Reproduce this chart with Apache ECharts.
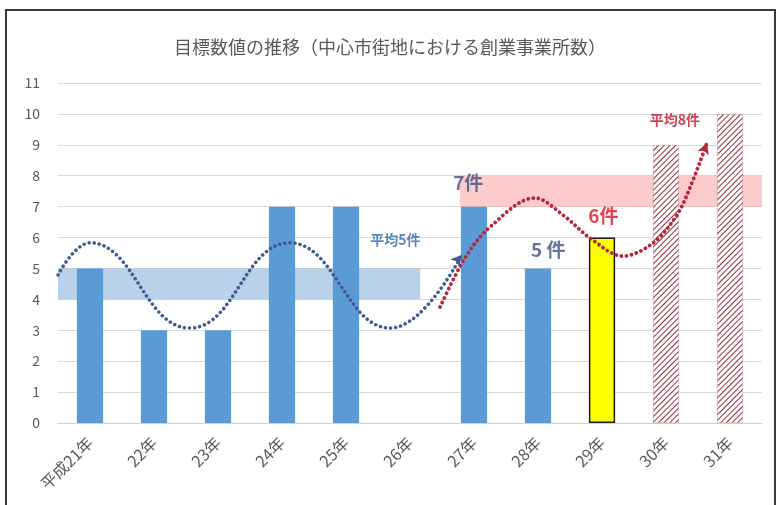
<!DOCTYPE html>
<html>
<head>
<meta charset="utf-8">
<script src="https://cdn.jsdelivr.net/npm/echarts@6/dist/echarts.min.js"></script>
<style>
  html, body { margin: 0; padding: 0; background: #fff; }
  #frame {
    position: absolute; left: 5px; top: 9px; width: 771px; height: 500px;
    border: 2px solid #3a3a3a; border-bottom: none; box-sizing: border-box;
  }
  #chart { position: absolute; left: 0; top: 0; width: 780px; height: 505px; }
</style>
</head>
<body>
<div id="frame"></div>
<div id="chart"></div>
<script>
  // 年度と実績・目標
  const years = ["平成21年", "22年", "23年", "24年", "25年", "26年", "27年", "28年", "29年", "30年", "31年"];
  const counts = [5, 3, 3, 7, 7, null, 7, 5, 6, 9, 10];
  const kinds = ["actual", "actual", "actual", "actual", "actual", "actual", "actual", "actual", "current", "target", "target"];
  const yTicks = [0, 11, 1];

  // 平均の帯 [x0, x1, y0, y1]（x は年度の位置）
  const bandBefore = [-0.5, 5.16, 4, 5];
  const bandAfter = [5.78, 10.5, 7, 8];

  // 点線カーブ（目で読んだ点）
  const waveBefore = [
    [-0.5, 4.79], [0, 5.83], [1.56, 3.07], [3.12, 5.83], [4.69, 3.07], [5.81, 5.44]
  ];
  const waveAfter = [
    [5.47, 3.75], [5.86, 5.34], [6.25, 6.34], [6.95, 7.28], [7.39, 6.73], [7.81, 5.99],
    [8.33, 5.4], [8.8, 5.83], [9.17, 6.73], [9.38, 7.64], [9.64, 9.06]
  ];

  // 注記 [x, y, 文字]
  const notesBlue = [[4.77, 5.92, "平均5件"]];
  const notesBig = [[5.91, 7.77, "7件"], [7.16, 5.6, "5 件"]];
  const notesRed = [[8.02, 6.7, "6件"]];
  const notesRedSmall = [[9.14, 9.8, "平均8件"]];

  const font = "'Noto Sans CJK JP', 'Noto Sans', sans-serif";

  const barStyles = {
    actual: { color: "#5B9BD5" },
    current: { color: "#FFFF00", borderColor: "#1a1a1a", borderWidth: 1.5 },
    target: {
      color: "#ffffff",
      borderColor: "rgba(200,60,70,0.3)",
      borderWidth: 1,
      borderType: "dotted",
      decal: {
        symbol: "rect",
        color: "#8A3040",
        dashArrayX: [1, 0],
        dashArrayY: [0.9, 2.6],
        rotation: -Math.PI / 4,
        symbolSize: 1
      }
    }
  };

  const barData = counts.map((v, i) => ({ value: v, itemStyle: barStyles[kinds[i]] }));

  function withArrow(points, rotate) {
    return points.map((p, i) =>
      i === points.length - 1
        ? { value: p, symbol: "arrow", symbolSize: [9, 11], symbolRotate: rotate }
        : { value: p }
    );
  }

  function noteSeries(list, color, size, weight) {
    return {
      type: "scatter",
      xAxisIndex: 1,
      symbolSize: 0,
      z: 20,
      silent: true,
      data: list.map((n) => ({ value: [n[0], n[1]], name: n[2] })),
      label: {
        show: true,
        position: "inside",
        formatter: (p) => p.name,
        color: color,
        fontSize: size,
        fontWeight: weight,
        fontFamily: font
      }
    };
  }

  const chart = echarts.init(document.getElementById("chart"));

  const option = {
    backgroundColor: "transparent",
    animation: false,
    title: {
      text: "目標数値の推移（中心市街地における創業事業所数）",
      left: "center",
      top: 33,
      textStyle: { fontSize: 18, fontWeight: "normal", color: "#595959", fontFamily: font }
    },
    grid: { left: 58, right: 18, top: 83, bottom: 82 },
    xAxis: [
      {
        type: "category",
        data: years,
        axisLine: { lineStyle: { color: "#d0d0d0" } },
        axisTick: { show: false },
        axisLabel: {
          rotate: 45,
          color: "#595959",
          fontSize: 16,
          fontFamily: font,
          margin: 17
        }
      },
      { type: "value", min: -0.5, max: 10.5, show: false }
    ],
    yAxis: {
      type: "value",
      min: yTicks[0],
      max: yTicks[1],
      interval: yTicks[2],
      axisLine: { show: false },
      axisTick: { show: false },
      axisLabel: { color: "#595959", fontSize: 14, fontFamily: font, margin: 18 },
      splitLine: { lineStyle: { color: "#d9d9d9" } }
    },
    series: [
      {
        type: "bar",
        barWidth: "41%",
        data: barData,
        z: 2
      },
      {
        type: "line",
        xAxisIndex: 1,
        data: [],
        z: 5,
        markArea: {
          silent: true,
          data: [
            [
              { coord: [bandBefore[0], bandBefore[2]], itemStyle: { color: "rgba(91,145,205,0.42)" } },
              { coord: [bandBefore[1], bandBefore[3]] }
            ],
            [
              { coord: [bandAfter[0], bandAfter[2]], itemStyle: { color: "rgba(250,140,140,0.45)" } },
              { coord: [bandAfter[1], bandAfter[3]] }
            ]
          ]
        }
      },
      {
        type: "line",
        xAxisIndex: 1,
        smooth: 0.45,
        symbol: "none",
        showSymbol: true,
        z: 10,
        lineStyle: { type: [0.1, 5], width: 3.5, color: "#3E5C8E", cap: "round" },
        itemStyle: { color: "#3E5C8E" },
        data: withArrow(waveBefore, -40)
      },
      {
        type: "line",
        xAxisIndex: 1,
        smooth: 0.35,
        symbol: "none",
        showSymbol: true,
        z: 10,
        lineStyle: { type: [0.1, 5], width: 3.8, color: "#B3283A", cap: "round" },
        itemStyle: { color: "#B3283A" },
        data: withArrow(waveAfter, -20)
      },
      noteSeries(notesBlue, "#2F6AA8", 14, "bold"),
      noteSeries(notesBig, "#3F5282", 19, "bold"),
      noteSeries(notesRed, "#E0141E", 19, "bold"),
      noteSeries(notesRedSmall, "#C0102A", 14, "bold")
    ]
  };

  chart.setOption(option);
  window.addEventListener("resize", () => {
    chart.resize();
  });
</script>
</body>
</html>
